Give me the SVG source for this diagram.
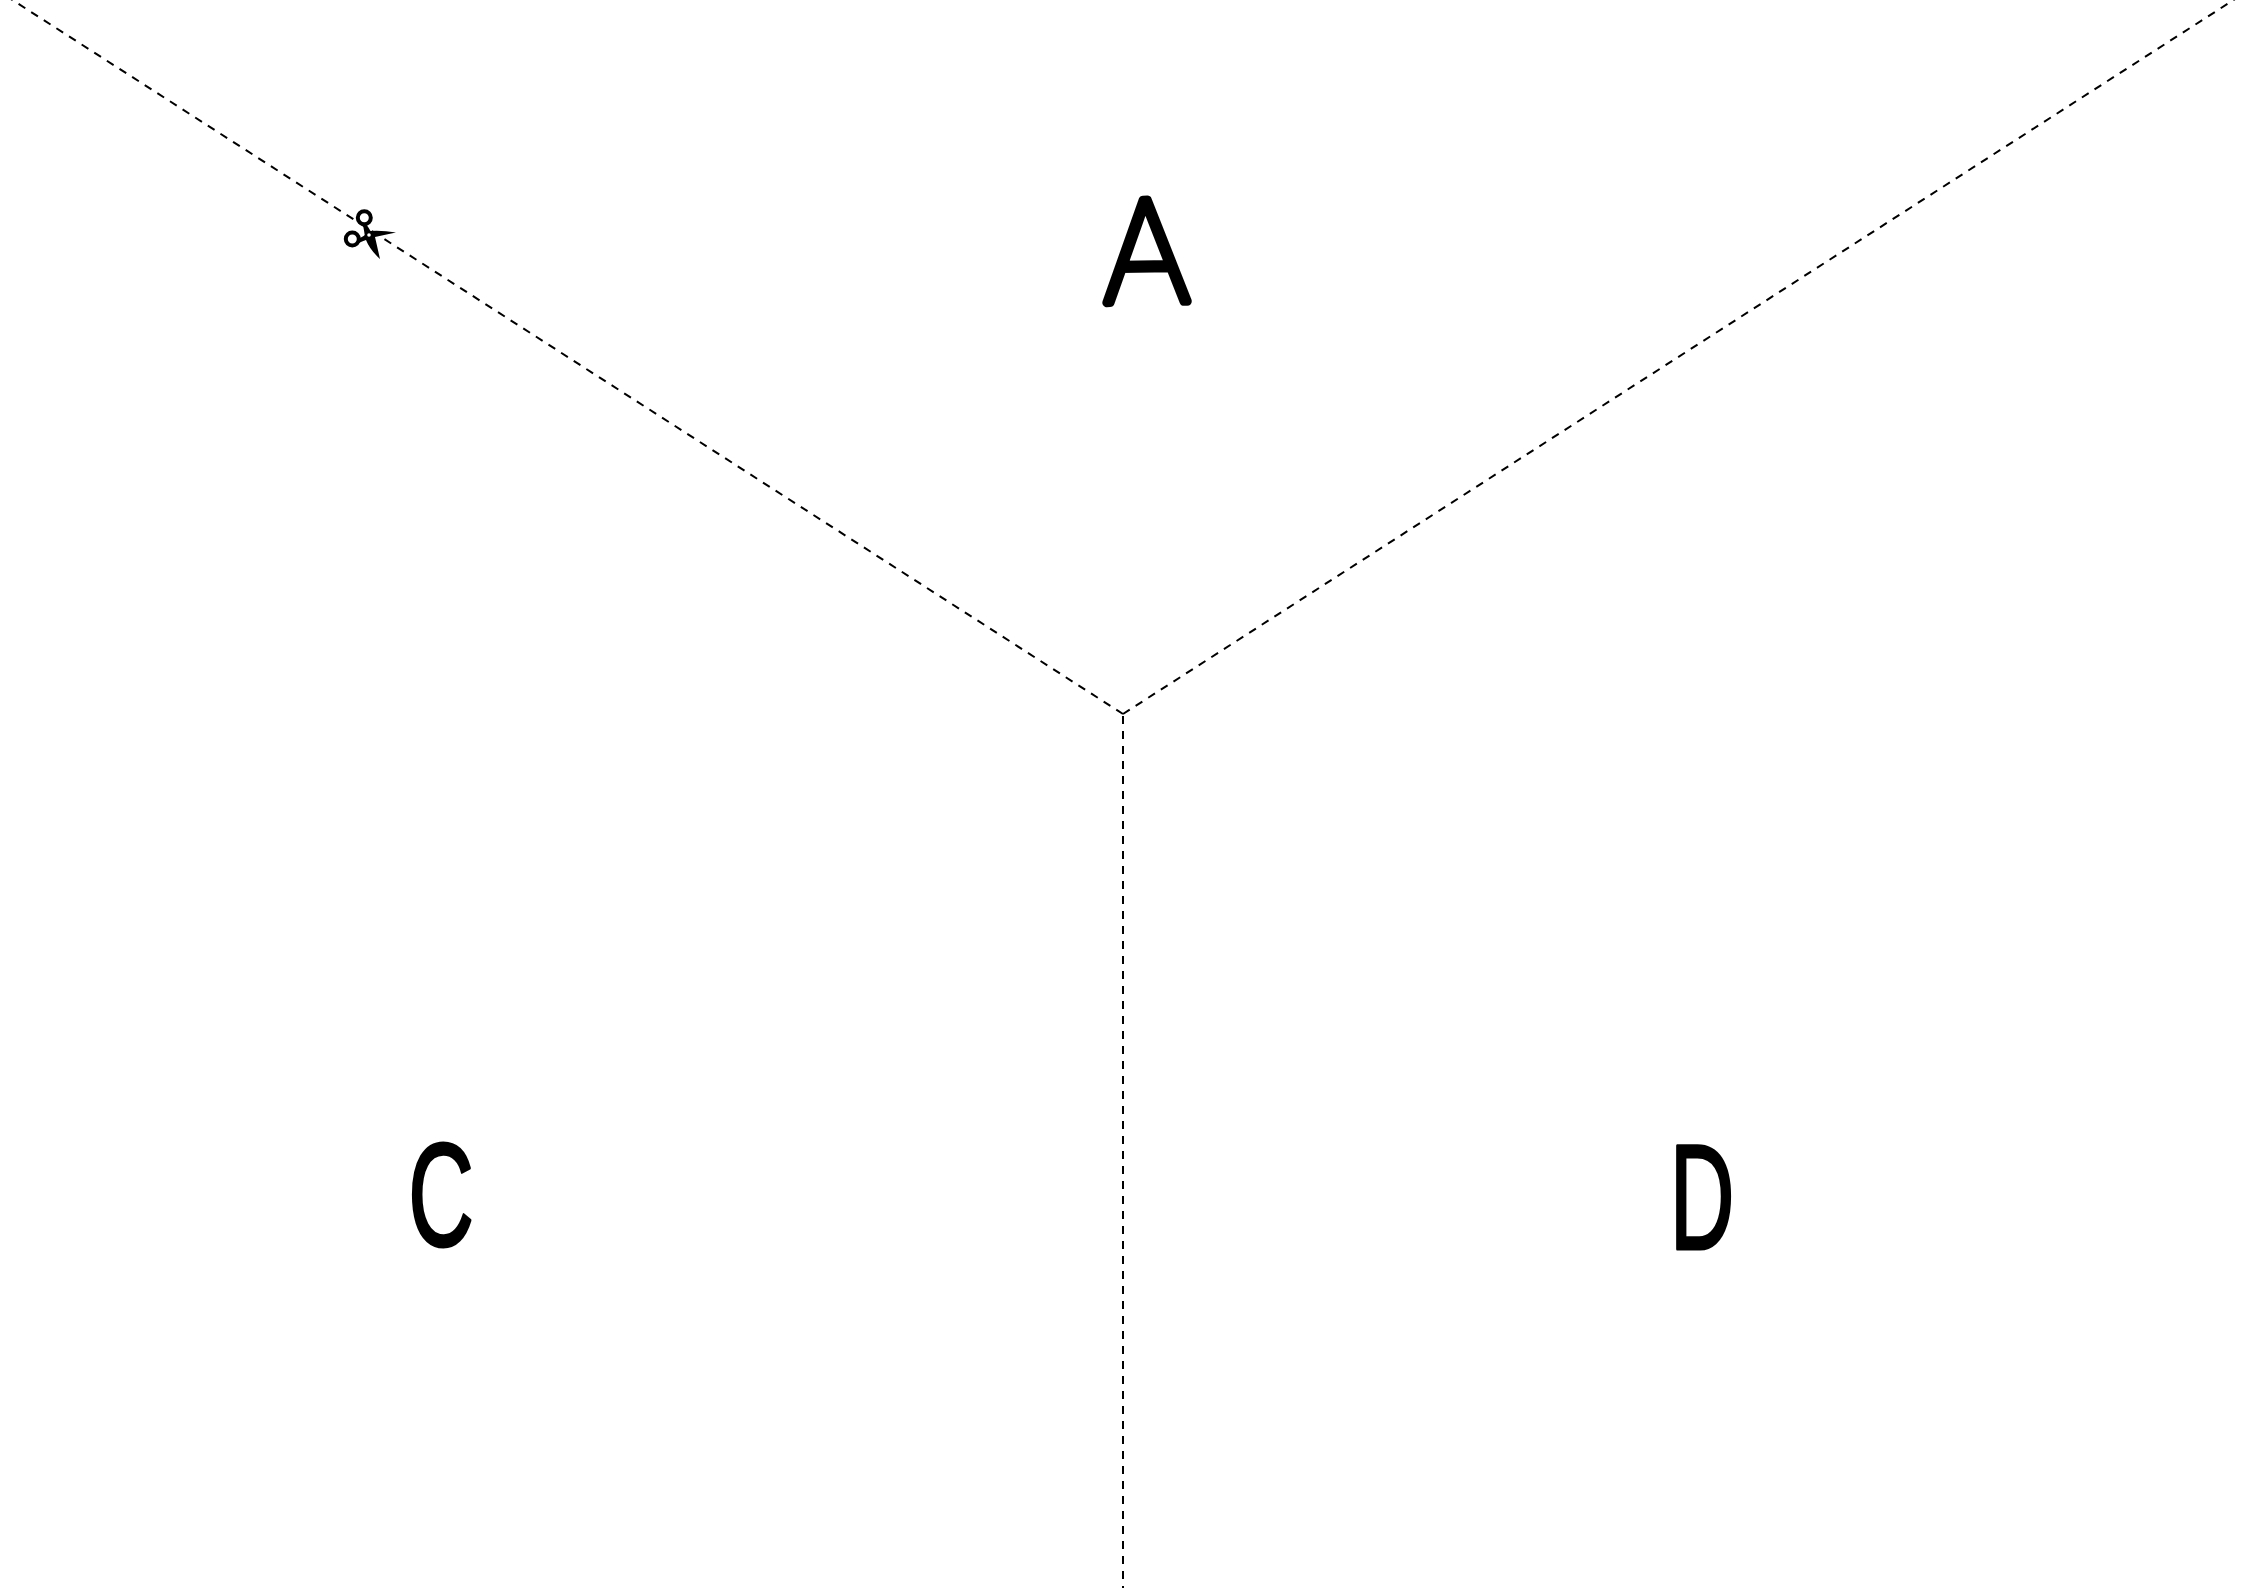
<svg xmlns="http://www.w3.org/2000/svg" width="2246" height="1588" viewBox="0 0 2246 1588">
<style>
.cut{fill:none;stroke:#000;stroke-width:2;stroke-dasharray:8 7}
.letter{fill:#000;stroke:#000;stroke-linejoin:round;stroke-linecap:round;text-anchor:middle}
.a{font-family:"Inter",sans-serif;font-weight:100;font-size:140px;stroke-width:9}
.n{font-family:"Liberation Sans Narrow","Liberation Sans",sans-serif;font-size:140px;stroke-width:3}
</style>
<rect width="2246" height="1588" fill="#fff"/>
<g id="connectors">
<path class="cut" d="M1123 714L0 -8"/>
<path class="cut" d="M1123 714L2246 -8"/>
<path class="cut" d="M1123 716V1588"/>
</g>
<g id="scissors">
<circle cx="364.3" cy="217.7" r="6.5" fill="#fff" stroke="#000" stroke-width="4"/>
<circle cx="352.3" cy="239" r="6.5" fill="#fff" stroke="#000" stroke-width="4"/>
<path d="M358 238.5Q364 237 369 231Q382 230 396 232.5Q384 235 375 237Q378 250 380 259Q370 250 366 240Q362 241 358 243.5Z"/>
<path d="M366 224Q369 228 371 232L365 237Q364 230 363 225Z"/>
<circle cx="369" cy="235" r="1.8" fill="#fff"/>
</g>
<g id="A"><text class="letter a" transform="translate(1147 302) rotate(-1)">A</text></g>
<g id="C"><text class="letter n" transform="translate(441 1246) scale(.65 1.05)">C</text></g>
<g id="D"><text class="letter n" transform="translate(1702 1249) scale(.64 1.07)">D</text></g>
</svg>
